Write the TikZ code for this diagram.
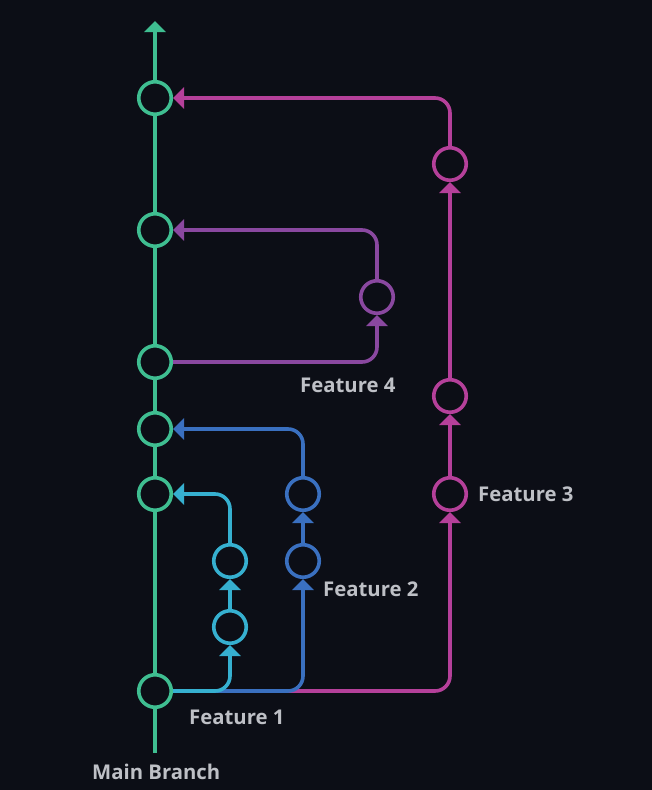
\documentclass[tikz,border=0pt]{standalone}
\usepackage{fontspec}
\setmainfont{Open Sans}
\usetikzlibrary{arrows.meta}
\definecolor{bg}{RGB}{12,14,22}
\definecolor{cmain}{RGB}{63,190,145}
\definecolor{cfa}{RGB}{54,176,208}
\definecolor{cfb}{RGB}{58,112,192}
\definecolor{cfc}{RGB}{181,64,154}
\definecolor{cfd}{RGB}{138,72,160}
\definecolor{ctext}{RGB}{190,192,198}
\begin{document}
\begin{tikzpicture}[x=1pt,y=-1pt,
  commit/.style={circle,draw,line width=3.6pt,fill=bg,minimum size=32.5pt,inner sep=0pt},
  link/.style={line width=3.6pt,rounded corners=15pt},
  tip/.style={-{Triangle[width=21pt,length=11pt]}},
  lbl/.style={font=\bfseries\fontsize{20.3}{24}\selectfont,text=ctext,anchor=base west,inner sep=0pt}]
\fill[bg] (0,0) rectangle (652,790);
\useasboundingbox (0,0) rectangle (652,790);
% main commits
\node[commit,draw=cmain] (m1) at (155,691) {};
\node[commit,draw=cmain] (m2) at (155,494) {};
\node[commit,draw=cmain] (m3) at (155,429) {};
\node[commit,draw=cmain] (m4) at (155,362) {};
\node[commit,draw=cmain] (m5) at (155,230) {};
\node[commit,draw=cmain] (m6) at (155,98) {};
\coordinate (mb) at (155,753);
\coordinate (mt) at (155,21);
% feature commits
\node[commit,draw=cfa] (a1) at (230,627) {};
\node[commit,draw=cfa] (a2) at (230,561) {};
\node[commit,draw=cfb] (b1) at (303,561) {};
\node[commit,draw=cfb] (b2) at (303,494) {};
\node[commit,draw=cfc] (c1) at (450,494) {};
\node[commit,draw=cfc] (c2) at (450,396) {};
\node[commit,draw=cfc] (c3) at (450,164) {};
\node[commit,draw=cfd] (d1) at (377,297) {};
% main line
\draw[link,cmain] (mb) -- (m1.south);
\draw[link,cmain] (m1.north) -- (m2.south);
\draw[link,cmain] (m2.north) -- (m3.south);
\draw[link,cmain] (m3.north) -- (m4.south);
\draw[link,cmain] (m4.north) -- (m5.south);
\draw[link,cmain] (m5.north) -- (m6.south);
\draw[link,cmain,tip] (m6.north) -- (mt);
% feature 3
\draw[link,cfc,tip] (m1.east) -| (c1.south);
\draw[link,cfc,tip] (c1.north) -- (c2.south);
\draw[link,cfc,tip] (c2.north) -- (c3.south);
\draw[link,cfc,tip] (c3.north) |- (m6.east);
% feature 2
\draw[link,cfb,tip] (m1.east) -| (b1.south);
\draw[link,cfb,tip] (b1.north) -- (b2.south);
\draw[link,cfb,tip] (b2.north) |- (m3.east);
% feature 1
\draw[link,cfa,tip] (m1.east) -| (a1.south);
\draw[link,cfa,tip] (a1.north) -- (a2.south);
\draw[link,cfa,tip] (a2.north) |- (m2.east);
% feature 4
\draw[link,cfd,tip] (m4.east) -| (d1.south);
\draw[link,cfd,tip] (d1.north) |- (m5.east);
% labels
\node[lbl] (l1) at (189,724) {Feature 1};
\node[lbl] (l2) at (323,596) {Feature 2};
\node[lbl] (l3) at (478,501) {Feature 3};
\node[lbl] (l4) at (300,392) {Feature 4};
\node[lbl] (lm) at (92,779) {Main Branch};
\end{tikzpicture}
\end{document}
